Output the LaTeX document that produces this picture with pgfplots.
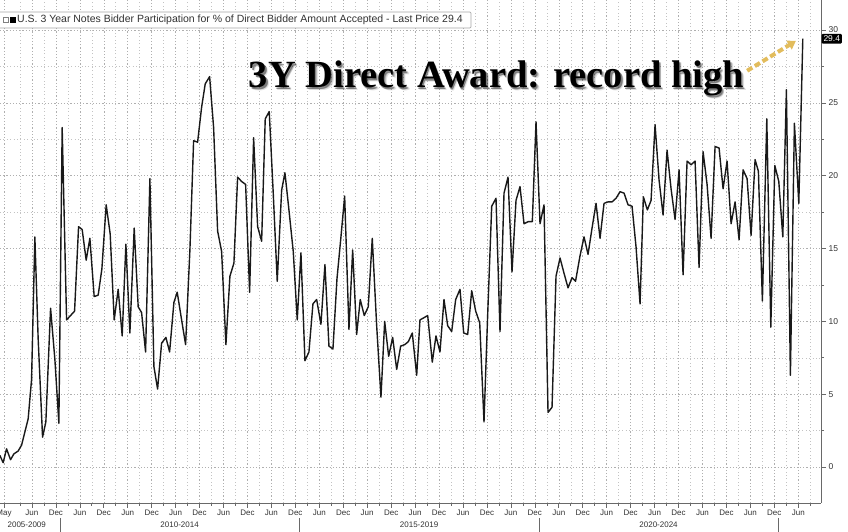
\documentclass[border=0pt]{standalone}
\usepackage{pgfplots}
\pgfplotsset{compat=1.18}
\usepackage{pgfplotstable}
\usepackage{fontspec}
\setmainfont{Liberation Sans}
\newfontfamily\headfont{Liberation Serif}
\usetikzlibrary{arrows.meta}

\definecolor{gridgray}{RGB}{175,175,175}
\definecolor{axisgray}{RGB}{105,105,105}
\definecolor{labelgray}{RGB}{50,50,50}
\definecolor{arrowgold}{RGB}{226,188,92}

% 3Y direct bidder share (%), one row per auction
% p = horizontal position, converted below to months since Jan 2010
\pgfplotstableread{
p v
0 0.8
3.3 0.3
6.7 1.25
10.7 0.5
14 0.9
18.3 1.1
21.7 1.5
25 2.4
28.3 3.3
31.7 6
35 15.8
38.3 8.8
42.7 2.05
46 3.1
50.7 10.9
55 7.4
59 3
62.3 23.3
66.7 10.1
70.7 10.4
74.7 10.7
78.7 16.5
82.3 16.3
86.3 14.2
90 15.7
94.3 11.7
98.3 11.8
102 13.6
106.3 18
110.3 16
114.3 10.1
118.3 12.2
122.3 9
126 15.3
130 9.2
134.3 16.4
138.3 11
141.7 10.6
145.7 7.9
150 19.8
154 6.9
157.7 5.35
161.7 8.5
166 8.9
169.7 7.9
174 11.3
177.3 12
181.7 10.1
185.7 8.4
190 14.9
193.7 22.4
197.7 22.3
201.7 24.7
205.3 26.3
209.7 26.8
213.7 23.3
217.7 16.2
221.7 14.8
226 8.4
230 13.1
234 14
237.7 19.9
241.7 19.6
245.7 19.4
249.7 12
253.7 22.6
257.7 16.5
261.7 15.5
265.3 23.9
269.3 24.4
273.3 18.8
277.3 12.75
281.7 19
285 20.2
289 17.65
293.3 14.8
297.3 10.1
301 14.7
305 7.3
309 7.9
313 11.2
316.7 11.5
321 9.8
325 13.9
329 8.3
333 8.1
337 12.9
341 15.8
344.7 18.6
349 9.45
352.7 14.9
356.7 9.1
360.3 11.5
364.3 10.4
368.3 11
372.3 15.7
376.7 9.7
381 4.8
384.7 10
388.7 7.6
392.7 8.9
396.7 6.7
400.7 8.3
404.7 8.4
408.3 8.6
412.3 9.2
416.7 6.3
420 10.1
424 10.25
427.7 10.4
432.3 7.2
436 9
440 7.9
444 11.5
447.7 9.7
451.7 9.3
455.7 11.5
460 12.2
463.7 9.2
467.7 9.1
471.7 12.1
475.7 10.7
479.7 9.9
484 3.1
487.7 10.5
491.7 17.9
496 18.45
500 9.3
504 18.8
508 19.9
512 13.4
516 18.3
520 19.25
524 16.7
528.3 16.85
532.3 16.85
536 23.7
540 16.7
544 18
548 3.75
552 4.1
556 13.1
560 14.35
564 13.3
568 12.3
572 13
575.5 12.75
580 14.5
584 15.8
588 14.6
592 16.4
596 18.1
600 15.7
604 18.1
608 18.2
612 18.2
616 18.45
620 18.9
624 18.8
628 18
632 17.9
636 15.1
640 11.2
643.3 18.55
647.3 17.65
651 18.3
655 23.5
659 19.7
663 17.3
667 21.75
671 19.1
675 17
679 20.4
683 13.2
687 21
691 20.75
695 21
699 13.7
703 21.65
707 19.4
711 15.7
715 22
719 21.9
723 19.1
727 21
731 16.7
735 18.2
739 15.6
743 20.4
747 19.8
751 15.9
755 21.1
758.3 20.3
762.3 11.4
766.7 23.9
770.7 9.6
774.7 20.7
778.7 19.6
782.7 15.8
786.3 25.9
790.3 6.3
794.3 23.6
798.7 18.1
802.7 29.4
}\direct

\begin{document}
\begin{tikzpicture}
\begin{axis}[
    at={(0pt,0pt)}, anchor=south west,
    scale only axis,
    width=821pt, height=503pt,
    xmin=-15, xmax=190.7,
    ymin=-2.47, ymax=32.06,
    clip=false,
    axis x line*=bottom, axis y line*=right,
    axis line style={-, draw=axisgray, line width=0.8pt},
    tick align=outside,
    tick style={axisgray, line width=0.6pt},
    major tick length=5pt, minor tick length=3pt,
    ytick={0,5,...,30},
    minor ytick={2.5,7.5,12.5,17.5,22.5,27.5},
    yticklabel pos=right,
    xtick={-14,-7,-1,5,11,17,23,29,35,41,47,53,59,65,71,77,83,89,95,101,107,113,119,125,131,137,143,149,155,161,167,173,179,185},
    xticklabels={May,Jun,Dec,Jun,Dec,Jun,Dec,Jun,Dec,Jun,Dec,Jun,Dec,Jun,Dec,Jun,Dec,Jun,Dec,Jun,Dec,Jun,Dec,Jun,Dec,Jun,Dec,Jun,Dec,Jun,Dec,Jun,Dec,Jun},
    minor xtick={-10,-4,2,8,14,20,26,32,38,44,50,56,62,68,74,80,86,92,98,104,110,116,122,128,134,140,146,152,158,164,170,176,182,188},
    xmajorgrids, xminorgrids, ymajorgrids, yminorgrids,
    major grid style={gridgray, dash pattern=on 1.2pt off 2pt, line width=0.5pt},
    minor grid style={gridgray!75, dash pattern=on 0.8pt off 2.6pt, line width=0.5pt},
    ticklabel style={font=\fontsize{8}{9}\selectfont, text=labelgray},
    xticklabel style={yshift=2pt},
    yticklabel style={font=\fontsize{8.5}{9}\selectfont, xshift=-1pt},
    /pgf/number format/assume math mode=true,
]
\addplot[black!90, line width=1.4pt, line join=round]
    table[x expr={(\thisrow{p}-60)/3.99}, y=v] {\direct};

% anchor points used after the axis
\coordinate (legsw) at (axis cs:-15,30.14);
\coordinate (legne) at (axis cs:103,31.23);
\coordinate (legtxt) at (axis cs:-15,30.7);
\coordinate (head) at (axis cs:109.4,26.02);
\coordinate (arrA) at (axis cs:172.2,27.2);
\coordinate (arrB) at (axis cs:184.4,29.25);
\coordinate (tag) at (axis cs:190.7,29.4);
\coordinate (s0) at (axis cs:0,-2.47);
\coordinate (s1) at (axis cs:60,-2.47);
\coordinate (s2) at (axis cs:120,-2.47);
\coordinate (s3) at (axis cs:180,-2.47);
\coordinate (g0) at (axis cs:-8.3,-2.47);
\coordinate (g1) at (axis cs:30,-2.47);
\coordinate (g2) at (axis cs:90,-2.47);
\coordinate (g3) at (axis cs:150,-2.47);
\end{axis}

% legend box
\draw[gray!70, fill=white, line width=0.7pt, rounded corners=1pt]
    ([xshift=-2pt]legsw) rectangle (legne);
\draw[gray, line width=0.5pt] ([xshift=3pt, yshift=-2.5pt]legtxt) rectangle ++(5pt,5pt);
\fill[black] ([xshift=9.5pt, yshift=-3pt]legtxt) rectangle ++(6pt,6pt);
\node[anchor=west, inner sep=0pt, font=\fontsize{10.5}{11}\selectfont, text=labelgray]
    at ([xshift=17pt]legtxt)
    {U.S. 3 Year Notes Bidder Participation for \% of Direct Bidder Amount Accepted - Last Price 29.4};

% headline with soft shadow
\foreach \s/\o in {2.6/0.12,1.8/0.2,1.1/0.3}{
  \node[anchor=base, inner sep=0pt, text=black, opacity=\o,
        font=\headfont\bfseries\fontsize{38.5}{40}\selectfont]
      at ([xshift=\s pt, yshift=-\s pt]head) {3Y Direct Award: record high};
}
\node[anchor=base, inner sep=0pt, text=black,
      font=\headfont\bfseries\fontsize{38.5}{40}\selectfont]
    at (head) {3Y Direct Award: record high};

% arrow to the last print
\draw[arrowgold, line width=4pt, dash pattern=on 6pt off 3pt,
      -{Triangle[length=8pt, width=10pt]}] (arrA) -- (arrB);

% last price tag
\node[anchor=west, fill=black, text=white, rounded corners=1pt, inner sep=1.8pt,
      font=\fontsize{8.5}{9}\selectfont] at ([xshift=0.5pt]tag) {29.4};

% year groups under the month labels
\foreach \c in {s0,s1,s2,s3}{
  \draw[axisgray, line width=0.6pt] ([yshift=-15pt]\c) -- ([yshift=-30pt]\c);
}
\foreach \c/\t in {g0/2005-2009, g1/2010-2014, g2/2015-2019, g3/2020-2024}{
  \node[font=\fontsize{8}{9}\selectfont, text=labelgray] at ([yshift=-22pt]\c) {\t};
}

\pgfresetboundingbox
\path (0pt,-29pt) rectangle (848pt,503pt);
\end{tikzpicture}
\end{document}
